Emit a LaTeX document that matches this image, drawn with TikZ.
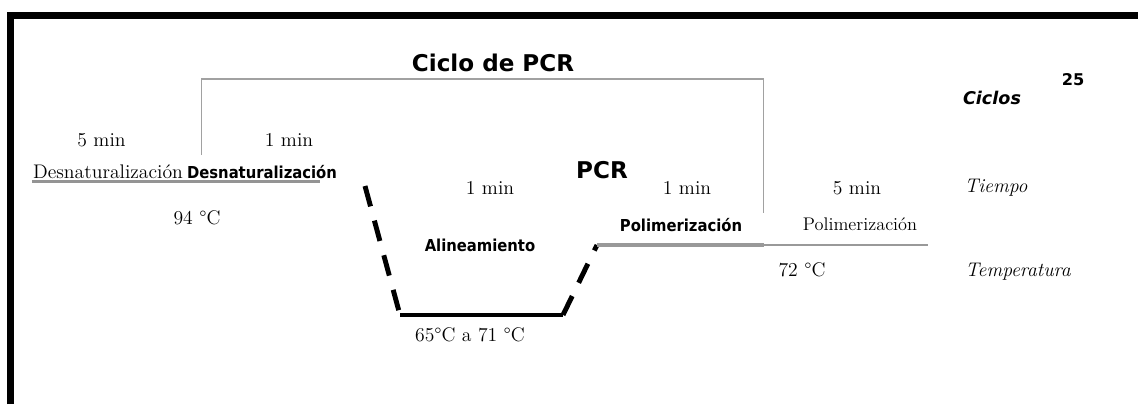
\documentclass[tikz,border=0pt]{standalone}
\usepackage{fontspec}
\newfontfamily\sansb{DejaVu Sans}
\newfontfamily\sansc{DejaVu Sans Condensed}
\usepackage{tikz}

\begin{document}
\begin{tikzpicture}[x=0.025cm, y=-0.025cm,
    serif/.style={font=\fontsize{14}{16}\selectfont, inner sep=0pt},
    serifit/.style={font=\itshape\fontsize{14}{16}\selectfont, inner sep=0pt},
    stage/.style={font=\sansc\bfseries\fontsize{11.7}{13}\selectfont, inner sep=0pt},
    title/.style={font=\sansb\bfseries\fontsize{16.4}{19}\selectfont, inner sep=0pt},
    bracket/.style={draw=black!37, line width=1pt},
    ramp/.style={line width=3.5pt, dash pattern=on 15pt off 10.5pt}]
    % Frame of the picture (1 unit = 1 px of the reference)
    \useasboundingbox (0,0) rectangle (1138,404);
    \draw[line width=5pt, miter limit=10] (10.5,404) -- (10.5,15.5) -- (1138,15.5);

    % Cycle bracket
    \coordinate (b1) at (201.5,155);
    \coordinate (b2) at (201.5,79);
    \coordinate (b3) at (763.5,79);
    \coordinate (b4) at (763.5,213);
    \draw[bracket] (b1) -- (b2) -- (b3) -- (b4);
    \node[title] (ciclo) at (493,63) {Ciclo de PCR};
    \node[title] (pcr) at (602,170) {PCR};

    % Temperature profile
    \coordinate (u1) at (32,181.5);
    \coordinate (u2) at (320,181.5);
    \coordinate (a1) at (365,186);
    \coordinate (a2) at (400,315);
    \coordinate (a3) at (563,315);
    \coordinate (a4) at (597,245);
    \coordinate (p1) at (763.5,245);
    \coordinate (p2) at (928,245);
    \draw[draw=black!42, line width=2pt] (u1) -- (u2);
    \draw[ramp] (a1) -- (a2);
    \draw[line width=3.3pt] (a2) -- (a3);
    \draw[ramp] (a3) -- (a4);
    \draw[draw=black!40, line width=3pt] (a4) -- (p1);
    \draw[draw=black!40, line width=1.6pt] (p1) -- (p2);

    % Times
    \node[serif] (t1) at (101.5,140) {5 min};
    \node[serif] (t2) at (289,140) {1 min};
    \node[serif] (t3) at (490,188) {1 min};
    \node[serif] (t4) at (687,188) {1 min};
    \node[serif] (t5) at (857,188) {5 min};

    % Stages
    \node[serif] (s1) at (108,172) {Desnaturalización};
    \node[stage] (s2) at (262,172) {Desnaturalización};
    \node[stage] (s3) at (480,245) {Alineamiento};
    \node[stage] (s4) at (681,225) {Polimerización};
    \node[serif, font=\fontsize{13}{15}\selectfont] (s5) at (860,224) {Polimerización};

    % Temperatures
    \node[serif] (c1) at (197,218) {94 °C};
    \node[serif] (c2) at (470,335) {65°C a 71 °C};
    \node[serif] (c3) at (802,270) {72 °C};

    % Legend
    \node[font=\sansb\bfseries\itshape\fontsize{12.5}{14}\selectfont, inner sep=0pt] (ciclos) at (992,98) {Ciclos};
    \node[font=\sansb\bfseries\fontsize{11.5}{13}\selectfont, inner sep=0pt] (n) at (1073,80) {25};
    \node[serifit] (tiempo) at (996,188) {Tiempo};
    \node[serifit] (temp) at (1018,272) {Temperatura};
\end{tikzpicture}
\end{document}
